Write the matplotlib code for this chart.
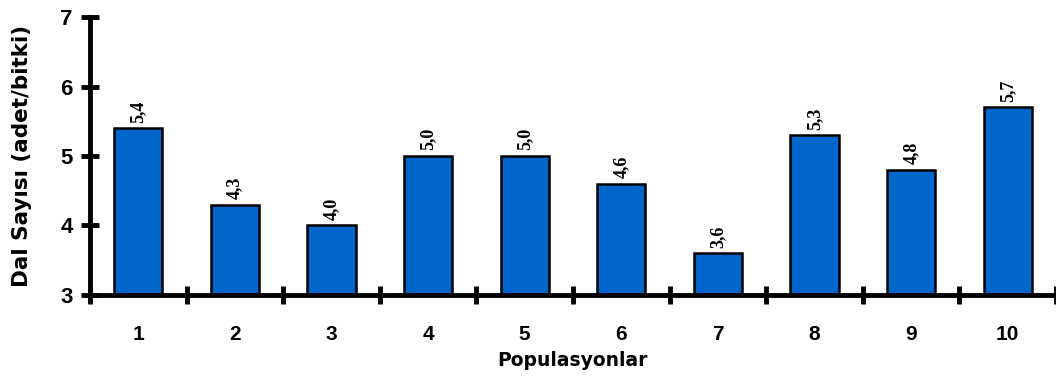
import matplotlib
matplotlib.use("Agg")
import matplotlib.pyplot as plt
from matplotlib.ticker import FixedLocator

populations = ["1", "2", "3", "4", "5", "6", "7", "8", "9", "10"]
branch_counts = [5.4, 4.3, 4.0, 5.0, 5.0, 4.6, 3.6, 5.3, 4.8, 5.7]
value_labels = ["5,4", "4,3", "4,0", "5,0", "5,0", "4,6", "3,6", "5,3", "4,8", "5,7"]
y_ticks = [3, 4, 5, 6, 7]

fig = plt.figure(figsize=(10.56, 3.81), dpi=100)
ax = fig.add_axes([0.0852, 0.226, 0.9148, 0.729])

x = list(range(len(populations)))
ax.bar(x, [v - 3 for v in branch_counts], bottom=3, width=0.5,
       color="#0066CC", edgecolor="black", linewidth=1.8, zorder=2)

for xi, v, lab in zip(x, branch_counts, value_labels):
    ax.text(xi, v + 0.08, lab, rotation=90, ha="center", va="bottom",
            fontsize=13, fontweight="bold", family="Liberation Serif")

ax.set_xlim(-0.5, len(populations) - 0.5)
ax.set_ylim(3, 7)

ax.spines["top"].set_visible(False)
ax.spines["right"].set_visible(False)
ax.spines["left"].set_linewidth(3.5)
ax.spines["bottom"].set_linewidth(3.5)
ax.spines["left"].set_zorder(3)
ax.spines["bottom"].set_zorder(3)

ax.set_yticks(y_ticks)
ax.set_yticklabels([str(t) for t in y_ticks], fontsize=16, fontweight="heavy",
                   family="Liberation Sans")
ax.tick_params(axis="y", direction="inout", length=13, width=3.5, pad=6)

ax.set_xticks(x)
ax.set_xticklabels(populations, fontsize=15, fontweight="heavy", family="Liberation Sans")
ax.tick_params(axis="x", which="major", length=0, pad=22)
ax.xaxis.set_minor_locator(FixedLocator([i - 0.5 for i in range(len(populations) + 1)]))
ax.tick_params(axis="x", which="minor", direction="inout", length=13, width=3.5)

ax.set_xlabel("Populasyonlar", fontsize=13.5, fontweight="bold", family="DejaVu Sans", labelpad=5)
ax.set_ylabel("Dal Sayısı (adet/bitki)", fontsize=15.5, fontweight="bold",
              family="DejaVu Sans", labelpad=20)

fig.savefig("out.png", dpi=100)
